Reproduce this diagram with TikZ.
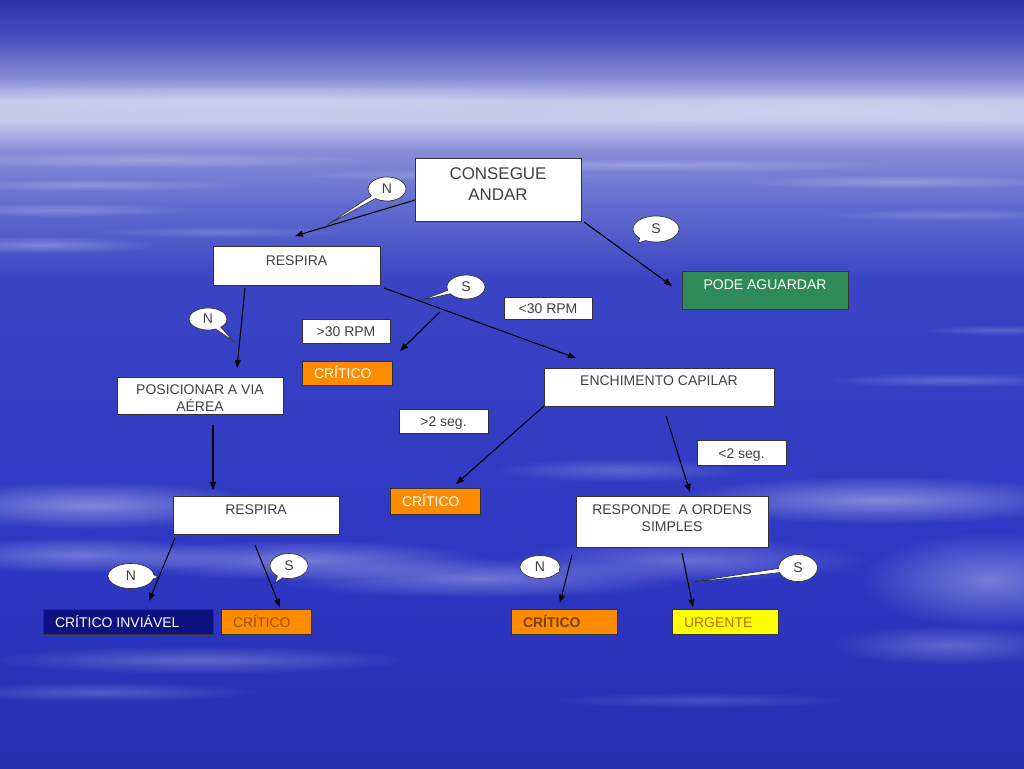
\documentclass[tikz,border=0pt]{standalone}
\usepackage{fontspec}
\setmainfont{Liberation Sans}
\usetikzlibrary{arrows.meta,calc,shapes.callouts,fadings}
\definecolor{txtgray}{RGB}{64,64,64}
\definecolor{critorange}{RGB}{255,140,0}
\definecolor{podegreen}{RGB}{46,139,87}
\definecolor{navybox}{RGB}{14,18,128}
\definecolor{urgyellow}{RGB}{255,255,0}
\definecolor{browntxt}{RGB}{160,80,10}
\definecolor{darkbrown}{RGB}{125,62,15}
\definecolor{urgtxt}{RGB}{185,105,0}
\definecolor{skyA}{RGB}{45,50,170}
\definecolor{skyB}{RGB}{75,80,190}
\definecolor{skyC}{RGB}{140,145,216}
\definecolor{skyD}{RGB}{196,199,234}
\definecolor{skyE}{RGB}{200,203,236}
\definecolor{skyF}{RGB}{135,141,214}
\definecolor{skyG}{RGB}{98,108,206}
\definecolor{skyH}{RGB}{58,68,196}
\definecolor{skyI}{RGB}{45,55,195}
\definecolor{skyJ}{RGB}{40,46,176}
\tikzfading[name=cloudfade, inner color=transparent!0, outer color=transparent!100]
\newdimen\pxu \pxu=0.75pt
\newcommand\btx[4][18]{\parbox[c][#3\pxu][t]{#2\pxu}{\centering\rule{0pt}{#1\pxu}#4\par}}
\newcommand\ltx[4][18.5]{\parbox[c][#3\pxu][t]{#2\pxu}{\raggedright\rule{0pt}{#1\pxu}\hspace*{12\pxu}#4\par}}
\newcommand\cloud[5]{\fill[white, fill opacity=#5, path fading=cloudfade] (#1,#2) ellipse [x radius=#3, y radius=#4];}
\begin{document}
\begin{tikzpicture}[x=0.75pt,y=-0.75pt,
  wbox/.style={draw=black!80, fill=white, line width=0.7pt, inner sep=0pt, outer sep=0pt,
    text=txtgray, font=\fontsize{10.5}{12.75}\selectfont},
  obox/.style={wbox, fill=critorange},
  arr/.style={draw=black, line width=0.8pt, -{Triangle[length=6pt,width=4.5pt]}},
  bub/.style={ellipse callout, draw=black!80, fill=white, line width=0.5pt, inner sep=0pt,
    callout pointer arc=18, text=txtgray, font=\fontsize{10.5}{12.75}\selectfont}]
\useasboundingbox (0,0) rectangle (1024,768);
% sky
\shade[top color=skyA, bottom color=skyB] (0,0) rectangle (1024,41);
\shade[top color=skyB, bottom color=skyC] (0,40) rectangle (1024,81);
\shade[top color=skyC, bottom color=skyD] (0,80) rectangle (1024,101);
\shade[top color=skyD, bottom color=skyE] (0,100) rectangle (1024,121);
\shade[top color=skyE, bottom color=skyF] (0,120) rectangle (1024,151);
\shade[top color=skyF, bottom color=skyG] (0,150) rectangle (1024,206);
\shade[top color=skyG, bottom color=skyH] (0,205) rectangle (1024,281);
\shade[top color=skyH, bottom color=skyI] (0,280) rectangle (1024,561);
\shade[top color=skyI, bottom color=skyJ] (0,560) rectangle (1024,768);
% clouds
\cloud{250}{98}{380}{18}{0.18}
\cloud{820}{108}{360}{16}{0.15}
\cloud{150}{160}{230}{8}{0.25}
\cloud{90}{185}{160}{6}{0.22}
\cloud{60}{210}{140}{7}{0.22}
\cloud{40}{245}{120}{9}{0.28}
\cloud{220}{232}{130}{6}{0.18}
\cloud{650}{165}{260}{7}{0.22}
\cloud{900}{182}{160}{7}{0.25}
\cloud{950}{215}{130}{6}{0.18}
\cloud{450}{175}{160}{6}{0.18}
\cloud{950}{380}{130}{7}{0.22}
\cloud{1000}{330}{80}{5}{0.18}
\cloud{90}{505}{180}{24}{0.4}
\cloud{80}{555}{160}{18}{0.32}
\cloud{300}{560}{190}{20}{0.35}
\cloud{480}{578}{210}{20}{0.32}
\cloud{690}{560}{180}{22}{0.28}
\cloud{880}{500}{210}{24}{0.4}
\cloud{990}{580}{130}{48}{0.35}
\cloud{620}{470}{130}{12}{0.22}
\cloud{200}{660}{210}{14}{0.25}
\cloud{100}{692}{160}{10}{0.2}
\cloud{950}{645}{120}{20}{0.25}
\cloud{700}{700}{150}{8}{0.15}
% boxes
\node[wbox, font=\fontsize{12.7}{15.75}\selectfont] (cons) at (498,189.5) {\btx[21.5]{166}{63}{CONSEGUE\\ANDAR}};
\node[wbox] (resp1) at (296.5,265.5) {\btx[19.5]{167}{39}{RESPIRA}};
\node[wbox, fill=podegreen, text=white] (pode) at (765,290) {\btx[18.5]{166}{38}{PODE AGUARDAR}};
\node[wbox] (lt30) at (548,308) {\btx[16.5]{88}{22}{<30 RPM}};
\node[wbox] (gt30) at (346,331) {\btx[17.5]{88}{24}{>30 RPM}};
\node[obox, text=white] (crit1) at (347,373) {\ltx[17.5]{90}{24}{CRÍTICO}};
\node[wbox] (pos) at (200,395.5) {\btx[17.5]{166}{37}{POSICIONAR A VIA\\AÉREA}};
\node[wbox] (ench) at (659,387) {\btx[17.5]{230}{38}{ENCHIMENTO CAPILAR}};
\node[wbox] (gt2) at (443.5,421) {\btx[17.5]{89}{24}{>2 seg.}};
\node[wbox] (lt2) at (741.5,452.5) {\btx[18.5]{89}{25}{<2 seg.}};
\node[obox, text=white] (crit2) at (435,501) {\ltx[18.5]{90}{26}{CRÍTICO}};
\node[wbox] (resp2) at (256,515) {\btx[18.5]{166}{38}{RESPIRA}};
\node[wbox] (respo) at (672,521.5) {\btx[18.5]{192}{51}{RESPONDE\ \ A ORDENS\\SIMPLES}};
\node[wbox, fill=navybox, text=white] (crinv) at (128,621.5) {\ltx{170}{25}{CRÍTICO INVIÁVEL}};
\node[obox, text=browntxt] (crit3) at (266,621.5) {\ltx{90}{25}{CRÍTICO}};
\node[obox, text=darkbrown] (crit4) at (564,621.5) {\ltx{106}{25}{\bfseries CRÍTICO}};
\node[wbox, fill=urgyellow, text=urgtxt] (urg) at (725,621.5) {\ltx{106}{25}{URGENTE}};
% connectors
\coordinate (br) at (440,312);
\draw[arr] ($(cons.west)+(0,10.5)$) -- ($(resp1.north)+(-1.5,-10)$);
\draw[arr] ($(cons.south east)+(3,1)$) -- ($(pode.west)+(-10,-4)$);
\draw[arr] ($(resp1.south)+(-51.5,3)$) -- ($(pos.north)+(37,-9)$);
\draw[arr] ($(resp1.south east)+(4,3)$) -- ($(ench.north west)+(32,-10)$);
\draw[arr] (br) -- ($(crit1.north east)+(8,-10)$);
\draw[arr] (ench.south west) -- ($(crit2.north)+(21,-4)$);
\draw[arr] ($(ench.south)+(7,10)$) -- ($(respo.north)+(18,-4)$);
\draw[arr] ($(pos.south)+(13,11)$) -- ($(resp2.north)+(-43,-6)$);
\draw[arr] ($(resp2.south west)+(2,4)$) -- ($(crinv.north)+(21,-8)$);
\draw[arr] ($(resp2.south)+(-1,11)$) -- ($(crit3.north)+(14,-2)$);
\draw[arr] ($(respo.south west)+(-4,8)$) -- ($(crit4.north)+(-4,-6)$);
\draw[arr] ($(respo.south)+(10,6)$) -- ($(urg.north)+(-32,-2)$);
% callouts
\node[bub, minimum width=28.5pt, minimum height=18pt, callout absolute pointer={(327,225)}] (b1) at (387,189) {N};
\node[bub, minimum width=34.5pt, minimum height=19.5pt, callout absolute pointer={(638,243)}] (b2) at (656,229) {S};
\node[bub, minimum width=28.5pt, minimum height=18pt, callout absolute pointer={(422,300)}] (b3) at (466,287) {S};
\node[bub, minimum width=28.5pt, minimum height=16.5pt, callout absolute pointer={(233,341)}] (b4) at (208,319) {N};
\node[bub, minimum width=34.5pt, minimum height=18.75pt, callout absolute pointer={(158,577)}] (b5) at (131,576) {N};
\node[bub, minimum width=28.5pt, minimum height=18.75pt, callout absolute pointer={(275,583)}] (b6) at (289,566) {S};
\node[bub, minimum width=30pt, minimum height=17.25pt, callout absolute pointer={(560,572)}] (b7) at (540,567) {N};
\node[bub, minimum width=29.25pt, minimum height=20.25pt, callout absolute pointer={(685,583)}] (b8) at (798,568) {S};
\end{tikzpicture}
\end{document}
